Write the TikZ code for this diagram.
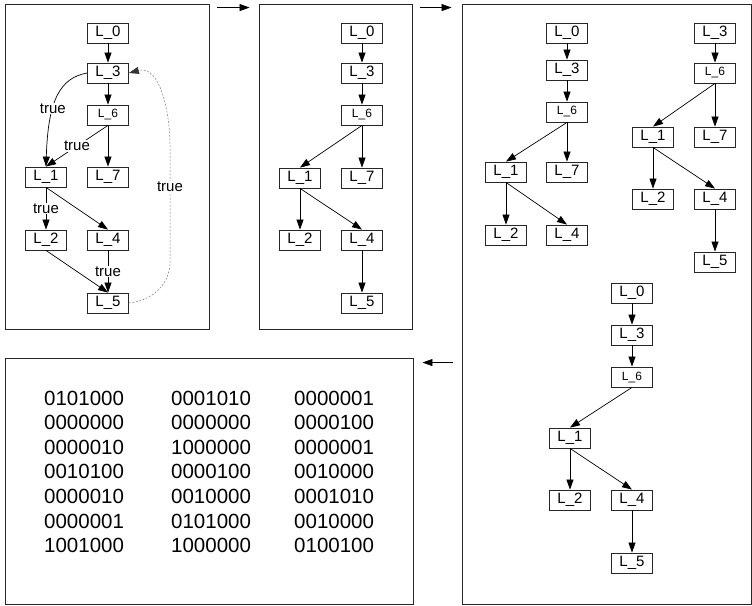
\documentclass[tikz,border=0pt]{standalone}
\usepackage{fontspec}
\setmainfont{Liberation Sans}
\usetikzlibrary{arrows.meta,calc}

\begin{document}
\begin{tikzpicture}[x=1pt,y=-1pt,
  lbox/.style={draw=black!85, line width=0.8pt, minimum width=41pt, minimum height=20pt,
    inner sep=0pt, font=\fontsize{15}{15}\selectfont},
  sbox/.style={lbox, font=\fontsize{12}{12}\selectfont},
  flow/.style={line width=0.7pt, -{Triangle[length=10pt,width=7pt]}},
  lbl/.style={fill=white, text=black, inner sep=1pt, font=\fontsize{15}{15}\selectfont},
  backedge/.style={gray, line width=0.5pt, dash pattern=on 2pt off 1.5pt,
    -{Triangle[length=10pt,width=7pt,black!80]}},
  panel/.style={draw=black!85, line width=0.9pt, inner sep=0pt},
  bits/.style={anchor=west, inner sep=0pt, font=\fontsize{20.5}{20.5}\selectfont}
]
\useasboundingbox (0,0) rectangle (752,605);

% frames
\node[panel, minimum width=204pt, minimum height=325pt] (p1) at (107,166.5) {};
\node[panel, minimum width=153pt, minimum height=325pt] (p2) at (335.5,166.5) {};
\node[panel, minimum width=289pt, minimum height=600pt] (p3) at (606.5,304) {};
\node[panel, minimum width=408pt, minimum height=246pt] (p4) at (209,481) {};

% arrows between frames
\draw[flow] ([xshift=8pt,yshift=-4pt]p1.north east) -- ([xshift=-9pt,yshift=-4pt]p2.north west);
\draw[flow] ([xshift=8pt,yshift=-4pt]p2.north east) -- ([xshift=-10pt,yshift=-4pt]p3.north west);
\draw[flow] ($(p3.west |- p4.north)+(-9,5)$) -- ($(p4.north east)+(9,5)$);

% control flow graph
\node[lbox] (a0) at (108,33) {L\_0};
\node[lbox] (a3) at (108,73) {L\_3};
\node[sbox] (a6) at (108,115) {L\_6};
\node[lbox] (a1) at (46,177) {L\_1};
\node[lbox] (a7) at (108,177) {L\_7};
\node[lbox] (a2) at (46,240) {L\_2};
\node[lbox] (a4) at (108,240) {L\_4};
\node[lbox] (a5) at (108,303) {L\_5};
\coordinate (r1) at (170,262);
\coordinate (r2) at (170,145);

\draw[flow] (a0) -- (a3);
\draw[flow] (a3) -- (a6);
\draw[flow] (a3.west) .. controls (60,78) and (48,100) .. node[pos=0.62, lbl] {true} (a1.north);
\draw[flow] (a6.south) -- node[lbl] {true} (a1.north);
\draw[flow] (a6) -- (a7);
\draw[flow] (a1) -- node[lbl] {true} (a2);
\draw[flow] (a1.south) -- (a4.north);
\draw[flow] (a2.south) -- (a5.north);
\draw[flow] (a4) -- node[lbl] {true} (a5);
\draw[backedge] (a5.east) to[out=5, in=-90] (r1) -- node[pos=0.64, lbl] {true} (r2)
  to[out=90, in=15] (a3.east);

% spanning tree
\node[lbox] (b0) at (362,33) {L\_0};
\node[lbox] (b3) at (362,73) {L\_3};
\node[sbox] (b6) at (362,115) {L\_6};
\node[lbox] (b1) at (300,178) {L\_1};
\node[lbox] (b7) at (362,178) {L\_7};
\node[lbox] (b2) at (300,240) {L\_2};
\node[lbox] (b4) at (362,240) {L\_4};
\node[lbox] (b5) at (362,303) {L\_5};
\draw[flow] (b0) -- (b3);
\draw[flow] (b3) -- (b6);
\draw[flow] (b6.south) -- (b1.north);
\draw[flow] (b6) -- (b7);
\draw[flow] (b1) -- (b2);
\draw[flow] (b1.south) -- (b4.north);
\draw[flow] (b4) -- (b5);

% paths split into trees
\node[lbox] (c0) at (567,33) {L\_0};
\node[lbox] (c3) at (567,70) {L\_3};
\node[sbox] (c6) at (567,112) {L\_6};
\node[lbox] (c1) at (506,172) {L\_1};
\node[lbox] (c7) at (567,172) {L\_7};
\node[lbox] (c2) at (506,235) {L\_2};
\node[lbox] (c4) at (567,235) {L\_4};
\draw[flow] (c0) -- (c3);
\draw[flow] (c3) -- (c6);
\draw[flow] (c6.south) -- (c1.north);
\draw[flow] (c6) -- (c7);
\draw[flow] (c1) -- (c2);
\draw[flow] (c1.south) -- (c4.north);

\node[lbox] (d3) at (715,33) {L\_3};
\node[sbox] (d6) at (715,73) {L\_6};
\node[lbox] (d1) at (653,137) {L\_1};
\node[lbox] (d7) at (715,137) {L\_7};
\node[lbox] (d2) at (653,199) {L\_2};
\node[lbox] (d4) at (715,199) {L\_4};
\node[lbox] (d5) at (715,262) {L\_5};
\draw[flow] (d3) -- (d6);
\draw[flow] (d6.south) -- (d1.north);
\draw[flow] (d6) -- (d7);
\draw[flow] (d1) -- (d2);
\draw[flow] (d1.south) -- (d4.north);
\draw[flow] (d4) -- (d5);

\node[lbox] (e0) at (632,293) {L\_0};
\node[lbox] (e3) at (632,335) {L\_3};
\node[sbox] (e6) at (632,377) {L\_6};
\node[lbox] (e1) at (570,438) {L\_1};
\node[lbox] (e2) at (570,500) {L\_2};
\node[lbox] (e4) at (632,500) {L\_4};
\node[lbox] (e5) at (632,563) {L\_5};
\draw[flow] (e0) -- (e3);
\draw[flow] (e3) -- (e6);
\draw[flow] (e6.south) -- (e1.north);
\draw[flow] (e1) -- (e2);
\draw[flow] (e1.south) -- (e4.north);
\draw[flow] (e4) -- (e5);

% bit vectors
\foreach \ra/\rb/\rc [count=\i from 0] in {
  0101000/0001010/0000001,
  0000000/0000000/0000100,
  0000010/1000000/0000001,
  0010100/0000100/0010000,
  0000010/0010000/0001010,
  0000001/0101000/0010000,
  1001000/1000000/0100100} {
  \node[bits] (ma\i) at (44,{398+24.6*\i}) {\ra};
  \node[bits] (mb\i) at (171,{398+24.6*\i}) {\rb};
  \node[bits] (mc\i) at (294,{398+24.6*\i}) {\rc};
}
\end{tikzpicture}
\end{document}
